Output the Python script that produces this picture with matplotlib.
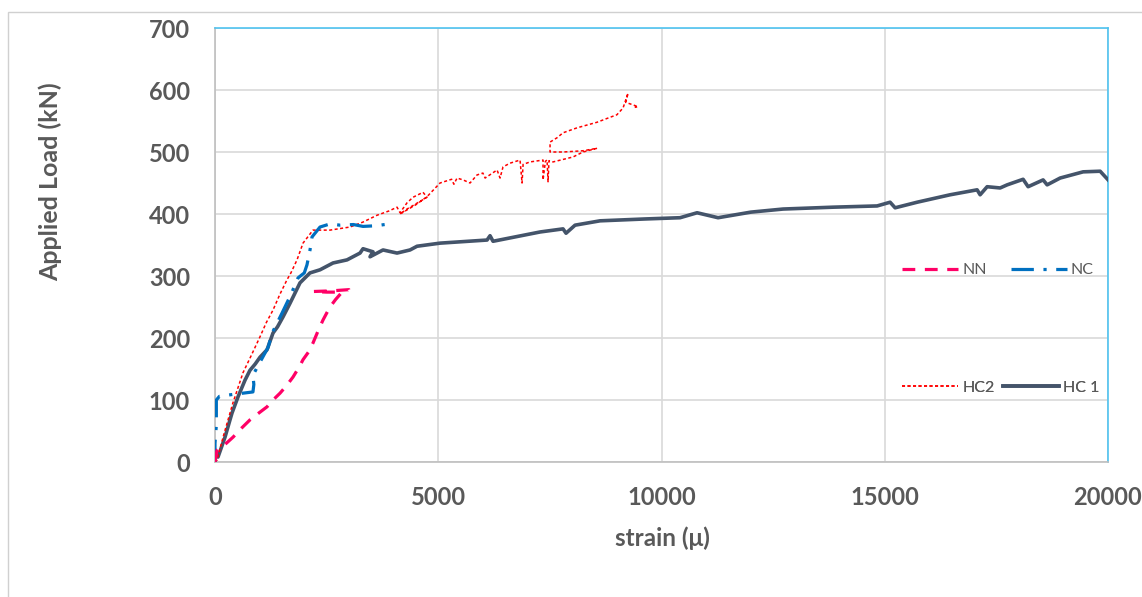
import matplotlib
matplotlib.use('Agg')
import matplotlib.pyplot as plt
from matplotlib.lines import Line2D
from matplotlib.patches import Rectangle

# strain (micro) vs applied load (kN)
nn_strain = [0, 45, 250, 403, 600, 784, 1000, 1165, 1300, 1456, 1600, 1747, 1900, 1971,
             2100, 2195, 2300, 2419, 2500, 2576, 2700, 2845, 2500, 2200, 2600, 3000, 3050]
nn_load = [0, 19, 30, 40, 55, 68, 80, 89, 100, 111, 123, 137, 155, 165,
           178, 192, 210, 229, 240, 250, 262, 274, 274, 275, 276, 278, 268]

nc_strain = [0, 0, 30, 30, 100, 400, 850, 870, 850, 1000, 1190, 1280, 1500, 1700, 1860,
             2000, 2060, 2128, 2173, 2352, 2576, 2800, 3100, 3315, 3600, 3800]
nc_load = [0, 30, 60, 100, 106, 109, 113, 125, 140, 160, 185, 208, 240, 270, 297,
           305, 318, 342, 363, 379, 384, 382, 383, 380, 381, 383]

hc2_strain = [0, 45, 200, 400, 627, 800, 1008, 1150, 1299, 1450, 1613, 1700, 1837, 1971,
              2195, 2576, 3024, 3315, 3629, 3900, 4077, 4144, 4300, 4435, 4659, 4749,
              4300, 4144, 4500, 4749, 5040, 5300, 5350, 5421, 5555, 5712, 5869, 6000,
              6050, 6317, 6384, 6451, 6608, 6832, 6877, 6900, 7056, 7347, 7347, 7400,
              7437, 7459, 7480, 7571, 8019, 8243, 8557, 8243, 7800, 7504, 7504, 7661,
              7795, 8109, 8557, 8848, 9000, 9139, 9251, 9200, 9363, 9475, 9400]
hc2_load = [0, 3, 45, 95, 144, 170, 202, 225, 245, 270, 294, 305, 326, 353,
            374, 374, 379, 387, 398, 405, 411, 402, 418, 427, 435, 427,
            408, 400, 415, 428, 450, 456, 448, 458, 455, 450, 463, 466,
            458, 471, 458, 476, 482, 487, 450, 480, 484, 487, 455, 485,
            487, 452, 486, 484, 492, 500, 506, 502, 500, 500, 516, 523,
            531, 539, 548, 556, 560, 571, 595, 580, 576, 573, 572]

hc1_strain = [0, 0, 67, 224, 336, 381, 515, 672, 784, 900, 1008, 1165, 1299, 1400, 1523,
              1680, 1904, 2128, 2352, 2643, 2957, 3248, 3315, 3539, 3472, 3763, 4077,
              4368, 4525, 5040, 6093, 6160, 6227, 7280, 7795, 7862, 8064, 8624, 9632,
              10416, 10797, 11267, 12000, 12723, 13843, 14829, 15120, 15232, 15725,
              16464, 17069, 17136, 17293, 17584, 17741, 18099, 18211, 18547, 18637,
              18928, 19443, 19824, 20003]
hc1_load = [0, 15, 8, 40, 68, 79, 105, 132, 148, 158, 169, 181, 208, 218, 234,
            256, 289, 305, 310, 321, 326, 337, 344, 339, 331, 342, 337,
            342, 348, 353, 358, 365, 356, 371, 376, 369, 382, 389, 392,
            394, 402, 394, 403, 408, 411, 413, 419, 410, 419,
            431, 439, 431, 444, 442, 447, 456, 444, 455, 447,
            458, 468, 469, 455]

y_ticks = [0, 100, 200, 300, 400, 500, 600, 700]
x_ticks = [0, 5000, 10000, 15000, 20000]

text_grey = '#595959'
grid_grey = '#D9D9D9'

fig = plt.figure(figsize=(11.42, 5.97), dpi=100)
W, H = 1142, 597
ax = fig.add_axes([215 / W, 1 - 462 / H, (1108 - 215) / W, (462 - 28) / H])

# chart area border
fig.patches.append(Rectangle((8 / W, -0.1), 1.2, 1 - 12 / H + 0.1, transform=fig.transFigure,
                             fill=False, edgecolor='#D0D0D0', linewidth=1))

ax.plot(hc1_strain, hc1_load, color='#44546A', lw=2.6, solid_joinstyle='round', zorder=3)
ax.plot(hc2_strain, hc2_load, color='#FF0000', lw=1.1, dashes=(2, 1.6), zorder=4)
ax.plot(nc_strain, nc_load, color='#0070C0', lw=2.3, dashes=(7, 3, 1, 3), zorder=5)
ax.plot(nn_strain, nn_load, color='#FF0066', lw=2.3, dashes=(4, 3), zorder=6)

ax.set_xlim(0, 20000)
ax.set_ylim(0, 700)
ax.set_xticks(x_ticks)
ax.set_yticks(y_ticks)
ax.grid(True, color=grid_grey, lw=1.2)
ax.set_axisbelow(True)
ax.tick_params(length=0, colors=text_grey)
ax.tick_params(axis='y', pad=18)
ax.tick_params(axis='x', pad=17)
for lab in ax.get_yticklabels() + ax.get_xticklabels():
    lab.set_fontfamily('Lato')
    lab.set_fontweight('bold')
    lab.set_fontsize(17)

for s in ['left', 'bottom']:
    ax.spines[s].set_color('#BFBFBF')
    ax.spines[s].set_linewidth(1.2)
for s in ['top', 'right']:
    ax.spines[s].set_color('#4FC3F0')
    ax.spines[s].set_linewidth(1.2)

fig.text(50 / W, 1 - 182 / H, 'Applied Load (kN)', rotation=90, ha='center', va='center',
         fontfamily='Lato', fontweight='bold', fontsize=18, color=text_grey)
fig.text(662 / W, 1 - 538 / H, 'strain (\u03bc)', ha='center', va='center',
         fontfamily='Lato', fontweight='bold', fontsize=17.5, color=text_grey)

def legend_row(handles, labels, y, spacing):
    leg = ax.legend(handles, labels, ncol=2, loc='center left',
                    bbox_to_anchor=(888 / W, 1 - y / H), bbox_transform=fig.transFigure,
                    frameon=False, handlelength=3.5, handletextpad=0.25, columnspacing=spacing,
                    prop={'family': 'Lato', 'size': 11.5})
    for t in leg.get_texts():
        t.set_color(text_grey)
    ax.add_artist(leg)

legend_row([Line2D([], [], color='#FF0066', lw=2.3, dashes=(4, 3)),
            Line2D([], [], color='#0070C0', lw=2.3, dashes=(7, 3, 1, 3))],
           ['NN', 'NC'], 270, 1.5)
legend_row([Line2D([], [], color='#FF0000', lw=1.1, dashes=(2, 1.6)),
            Line2D([], [], color='#44546A', lw=2.6)],
           ['HC2', 'HC 1'], 388, 0.5)

fig.savefig('out.png', dpi=100)
